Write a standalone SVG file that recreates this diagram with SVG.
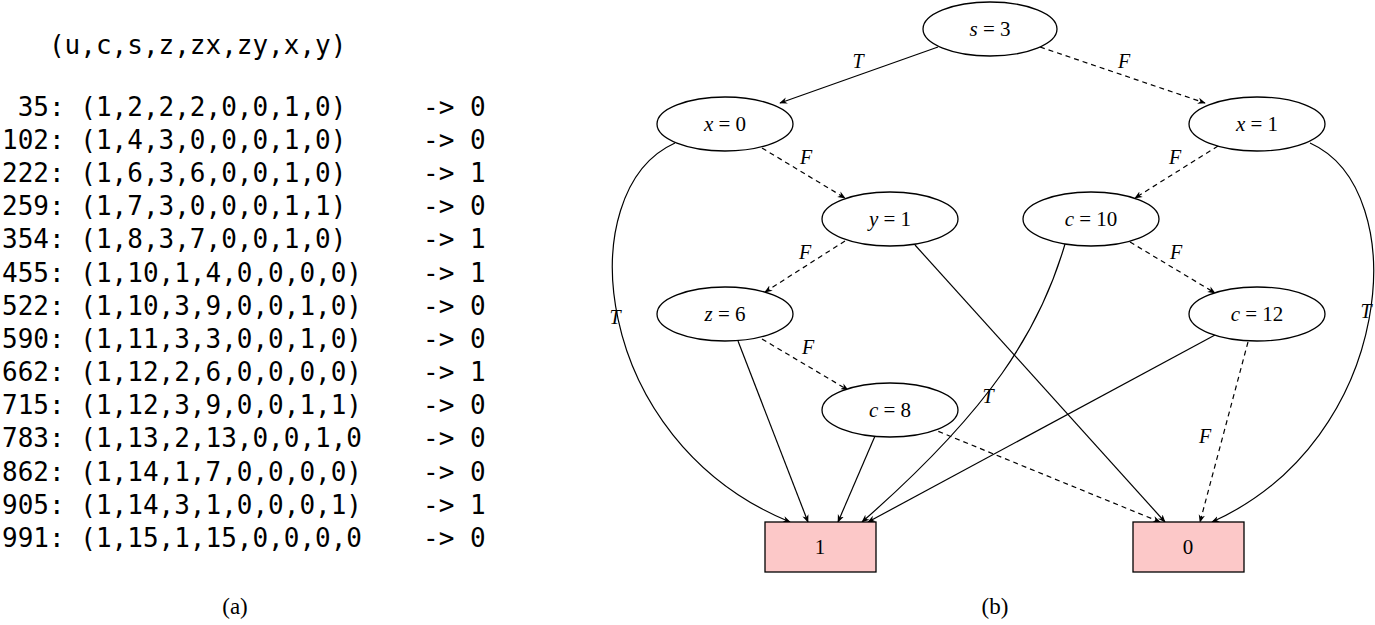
<svg xmlns="http://www.w3.org/2000/svg" width="1375" height="625" viewBox="0 0 1375 625">
<style>
.m{font-family:"DejaVu Sans Mono",monospace;font-size:26px;fill:#000;white-space:pre}
.n ellipse{fill:#fff;stroke:#000;stroke-width:1.3}
.n rect{fill:#fcc8c8;stroke:#000;stroke-width:1.3}
.t{font-family:"Liberation Serif",serif;font-size:21px;text-anchor:middle}
.v{font-style:italic}
.e path{fill:none;stroke:#000;stroke-width:1.2;marker-end:url(#a)}
.e .d{stroke-dasharray:5,4}
.l{font-family:"Liberation Serif",serif;font-style:italic;font-size:20px;text-anchor:middle}
</style>
<defs><marker id="a" viewBox="0 0 10 10" refX="9" refY="5" markerWidth="8" markerHeight="8" orient="auto" markerUnits="userSpaceOnUse"><path d="M0,1 L10,5 L0,9 L3,5z" fill="#000"/></marker></defs>
<g id="table" class="m" xml:space="preserve">
<text x="2" y="54" xml:space="preserve">   (u,c,s,z,zx,zy,x,y)</text>
<text x="2" y="116" xml:space="preserve"> 35: (1,2,2,2,0,0,1,0)</text><text x="423" y="116">-&gt; 0</text>
<text x="2" y="149">102: (1,4,3,0,0,0,1,0)</text><text x="423" y="149">-&gt; 0</text>
<text x="2" y="182">222: (1,6,3,6,0,0,1,0)</text><text x="423" y="182">-&gt; 1</text>
<text x="2" y="215">259: (1,7,3,0,0,0,1,1)</text><text x="423" y="215">-&gt; 0</text>
<text x="2" y="248">354: (1,8,3,7,0,0,1,0)</text><text x="423" y="248">-&gt; 1</text>
<text x="2" y="282">455: (1,10,1,4,0,0,0,0)</text><text x="423" y="282">-&gt; 1</text>
<text x="2" y="315">522: (1,10,3,9,0,0,1,0)</text><text x="423" y="315">-&gt; 0</text>
<text x="2" y="348">590: (1,11,3,3,0,0,1,0)</text><text x="423" y="348">-&gt; 0</text>
<text x="2" y="381">662: (1,12,2,6,0,0,0,0)</text><text x="423" y="381">-&gt; 1</text>
<text x="2" y="414">715: (1,12,3,9,0,0,1,1)</text><text x="423" y="414">-&gt; 0</text>
<text x="2" y="447">783: (1,13,2,13,0,0,1,0</text><text x="423" y="447">-&gt; 0</text>
<text x="2" y="481">862: (1,14,1,7,0,0,0,0)</text><text x="423" y="481">-&gt; 0</text>
<text x="2" y="514">905: (1,14,3,1,0,0,0,1)</text><text x="423" y="514">-&gt; 1</text>
<text x="2" y="547">991: (1,15,1,15,0,0,0,0</text><text x="423" y="547">-&gt; 0</text>
</g>
<g class="e" id="edges">
<path d="M938,47 L780,103"/>
<path class="d" d="M1040,47 L1205,103"/>
<path class="d" d="M762,148 L845,198"/>
<path class="d" d="M1218,146 L1135,198"/>
<path class="d" d="M845,241 L765,292"/>
<path class="d" d="M1130,242 L1215,293"/>
<path class="d" d="M762,339 L848,390"/>
<path d="M675,143 C570,190 590,440 790,522"/>
<path d="M1310,143 C1415,190 1395,440 1212,522"/>
<path d="M915,245 L1165,522"/>
<path d="M1065,244 C1040,330 990,410 862,522"/>
<path d="M1215,335 L868,522"/>
<path class="d" d="M1248,342 L1200,522"/>
<path d="M738,341 L808,522"/>
<path d="M875,436 L838,522"/>
<path class="d" d="M930,428 L1160,522"/>
<g class="l" style="stroke:none">
<text x="858" y="68">T</text><text x="1124" y="68">F</text>
<text x="806" y="164">F</text><text x="1175" y="164">F</text>
<text x="805" y="259">F</text><text x="1176" y="259">F</text>
<text x="808" y="354">F</text><text x="615" y="324">T</text>
<text x="1366" y="318">T</text><text x="988" y="403">T</text>
<text x="1205" y="443">F</text>
</g>
</g>
<g id="s3" class="n"><ellipse cx="990" cy="29" rx="67" ry="27"/><text class="t" x="990" y="36"><tspan class="v">s</tspan> = 3</text></g>
<g id="x0" class="n"><ellipse cx="725" cy="124" rx="68" ry="27"/><text class="t" x="725" y="131"><tspan class="v">x</tspan> = 0</text></g>
<g id="x1" class="n"><ellipse cx="1257" cy="124" rx="68" ry="27"/><text class="t" x="1257" y="131"><tspan class="v">x</tspan> = 1</text></g>
<g id="y1" class="n"><ellipse cx="890" cy="219" rx="68" ry="27"/><text class="t" x="890" y="226"><tspan class="v">y</tspan> = 1</text></g>
<g id="c10" class="n"><ellipse cx="1091" cy="219" rx="68" ry="27"/><text class="t" x="1091" y="226"><tspan class="v">c</tspan> = 10</text></g>
<g id="z6" class="n"><ellipse cx="725" cy="314" rx="68" ry="27"/><text class="t" x="725" y="321"><tspan class="v">z</tspan> = 6</text></g>
<g id="c12" class="n"><ellipse cx="1257" cy="314" rx="68" ry="27"/><text class="t" x="1257" y="321"><tspan class="v">c</tspan> = 12</text></g>
<g id="c8" class="n"><ellipse cx="890" cy="410" rx="68" ry="27"/><text class="t" x="890" y="417"><tspan class="v">c</tspan> = 8</text></g>
<g id="one" class="n"><rect x="765" y="522" width="111" height="50"/><text class="t" x="820" y="554">1</text></g>
<g id="zero" class="n"><rect x="1133" y="522" width="111" height="50"/><text class="t" x="1188" y="554">0</text></g>
<text class="t" x="235" y="614" style="font-size:23px">(a)</text>
<text class="t" x="995" y="614" style="font-size:23px">(b)</text>
</svg>
